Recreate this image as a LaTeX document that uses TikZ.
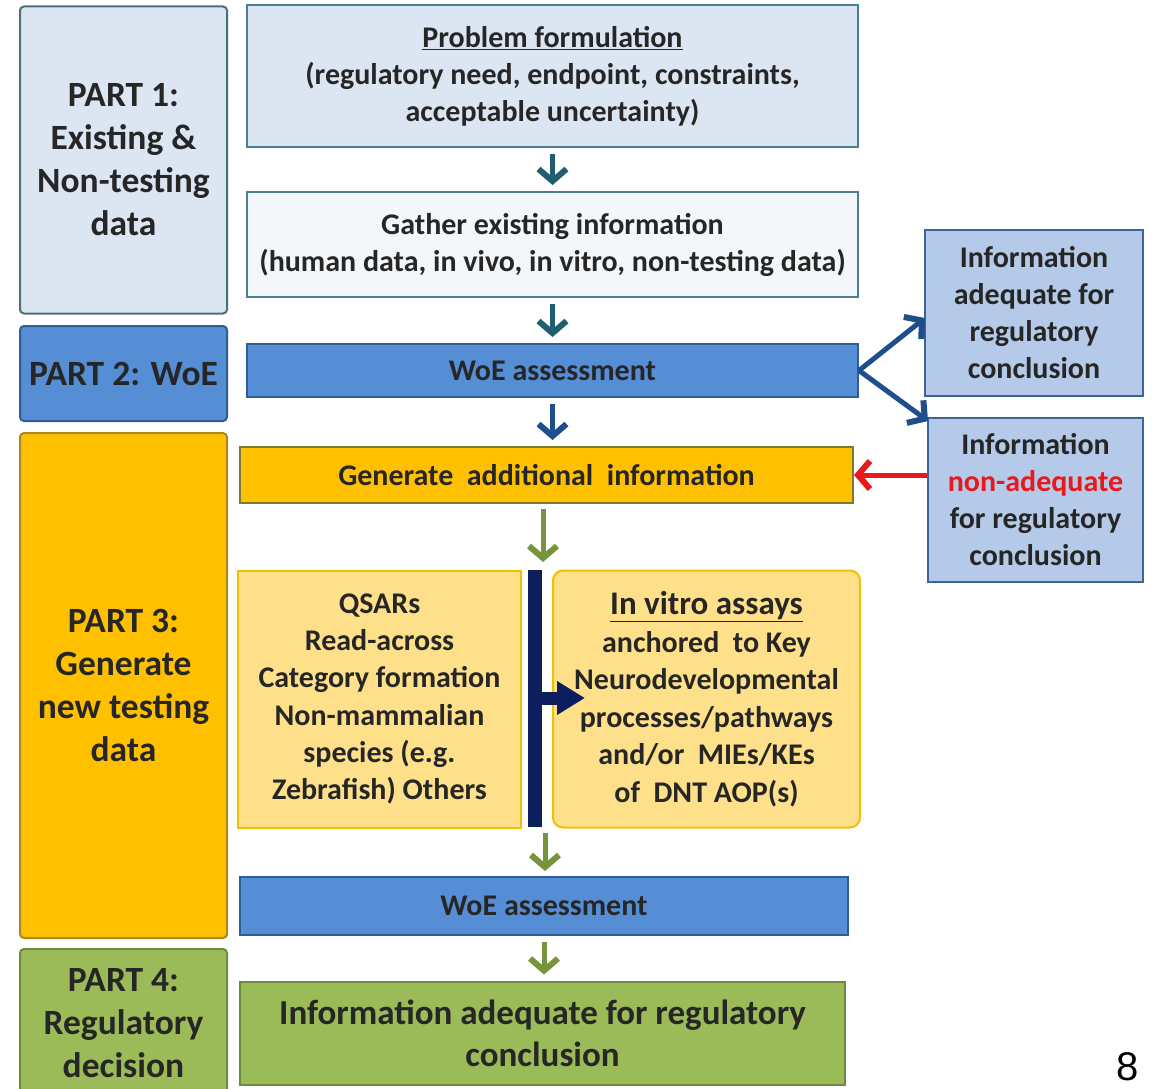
\documentclass[tikz,border=0pt]{standalone}
\usepackage{fontspec}
\setmainfont{Carlito}
\setsansfont{Liberation Sans}
\usetikzlibrary{arrows.meta}
\definecolor{pafill}{HTML}{DCE6F2}
\definecolor{padraw}{HTML}{4F6F78}
\definecolor{tealdraw}{HTML}{4A8090}
\definecolor{gathfill}{HTML}{F3F7FA}
\definecolor{woefill}{HTML}{558ED5}
\definecolor{woedraw}{HTML}{2F5E96}
\definecolor{rbfill}{HTML}{B4CAE8}
\definecolor{rbdraw}{HTML}{3D659A}
\definecolor{orfill}{HTML}{FFC000}
\definecolor{ordraw}{HTML}{A88A1E}
\definecolor{gendraw}{HTML}{7A7A30}
\definecolor{lyfill}{HTML}{FFE08A}
\definecolor{lydraw}{HTML}{F0C000}
\definecolor{navy}{HTML}{0C1E5E}
\definecolor{grfill}{HTML}{9BBB59}
\definecolor{grdraw}{HTML}{6E8B3D}
\definecolor{tealarrow}{HTML}{1E5E6E}
\definecolor{bluearrow}{HTML}{1F4E8C}
\definecolor{greenarrow}{HTML}{77933C}
\definecolor{redarrow}{HTML}{E8191C}
\definecolor{txt}{HTML}{262626}
\newcommand{\fsz}[2]{\fontsize{#1}{#2}\selectfont\bfseries}
\tikzset{
  boxbase/.style={draw, line width=2pt, inner sep=0pt, align=center, text=txt},
  partbox/.style={boxbase, rounded corners=4pt, minimum width=207pt, font=\fsz{35.5}{43}},
  barbtip/.style={-{Straight Barb[length=12pt,width=28pt,line width=6pt]}},
  flowarrow/.style={line width=5pt, barbtip, shorten <=6pt, shorten >=6pt},
}
\begin{document}
\begin{tikzpicture}[x=1pt,y=-1pt]
\clip (0,0) rectangle (1152,1089);
\fill[white] (0,0) rectangle (1152,1089);
% part boxes
\node[partbox, fill=pafill, draw=padraw, minimum height=307pt] (p1) at (123.5,160) {PART 1:\\Existing \&\\Non-testing\\data};
\node[partbox, fill=woefill, draw=woedraw, minimum height=95pt] (p2) at (123.5,373.5) {PART 2: WoE};
\node[partbox, fill=orfill, draw=ordraw, minimum height=505pt] (p3) at (123.5,685.5) {PART 3:\\Generate\\new testing\\data};
\node[partbox, fill=grfill, draw=grdraw, minimum height=150pt, anchor=north] (p4) at (123.5,948) {};
\node[font=\fsz{35.5}{43}, text=txt, align=center] (p4t) at (123.5,1023) {PART 4:\\Regulatory\\decision};
% main flow
\node[boxbase, fill=pafill, draw=tealdraw, minimum width=611pt, minimum height=142pt, font=\fsz{30}{37}] (prob) at (552.5,76) {\underline{Problem formulation}\\(regulatory need, endpoint, constraints,\\acceptable uncertainty)};
\node[boxbase, fill=gathfill, draw=tealdraw, minimum width=611pt, minimum height=105pt, font=\fsz{30}{37}] (gath) at (552.5,244.5) {Gather existing information\\(human data, in vivo, in vitro, non-testing data)};
\node[boxbase, fill=woefill, draw=woedraw, minimum width=611pt, minimum height=53pt, font=\fsz{30}{34}] (woe1) at (552.5,370.5) {WoE assessment};
\node[boxbase, fill=rbfill, draw=rbdraw, minimum width=218pt, minimum height=166pt, font=\fsz{30}{37}] (rb1) at (1034,313) {Information\\adequate for\\regulatory\\conclusion};
\node[boxbase, fill=rbfill, draw=rbdraw, minimum width=215pt, minimum height=164pt, font=\fsz{30}{37}] (rb2) at (1035.5,500) {Information\\\textcolor{redarrow}{non-adequate}\\for regulatory\\conclusion};
\node[boxbase, fill=orfill, draw=gendraw, minimum width=613pt, minimum height=56pt, font=\fsz{30}{34}] (gen) at (546.5,475) {Generate\ \ additional\ \ information};
\node[boxbase, fill=lyfill, draw=lydraw, minimum width=283pt, minimum height=257pt, font=\fsz{30}{37.3}] (ly) at (379.5,699) {QSARs\\Read-across\\Category formation\\Non-mammalian\\species (e.g.\\Zebrafish) Others};
\node[boxbase, fill=lyfill, draw=lydraw, rounded corners=10pt, minimum width=307pt, minimum height=257pt, font=\fsz{30}{37.5}] (ry) at (706.5,699) {{\fontsize{33}{37.5}\selectfont\underline{In vitro assays}}\\anchored\ \ to Key\\Neurodevelopmental\\processes/pathways\\and/or\ \ MIEs/KEs\\of\ \ DNT AOP(s)};
\node[fill=navy, inner sep=0pt, minimum width=14pt, minimum height=257pt] (bar) at (535,698.5) {};
\coordinate (bartip) at (585,698);
\draw[navy, line width=13pt, -{Triangle[length=28pt,width=32pt]}] (bar.east |- bartip) -- (bartip);
\node[boxbase, fill=woefill, draw=woedraw, minimum width=608pt, minimum height=58pt, font=\fsz{30}{34}] (woe2) at (544,906) {WoE assessment};
\node[boxbase, fill=grfill, draw=grdraw, minimum width=605pt, minimum height=103pt, font=\fsz{35}{42}] (fin) at (542.5,1033) {Information adequate for regulatory\\conclusion};
\node[font=\sffamily\fontsize{40}{40}\selectfont, text=black, anchor=base, inner sep=0pt] (pg) at (1128,1080) {8};
% arrows
\draw[flowarrow, tealarrow] (prob.south) -- (gath.north);
\draw[flowarrow, tealarrow] (gath.south) -- (woe1.north);
\draw[flowarrow, bluearrow] (woe1.south) -- (woe1.south |- gen.north);
\coordinate (g4a) at (543,503);
\coordinate (g4b) at (543,568);
\draw[flowarrow, greenarrow] (g4a) -- (g4b);
\coordinate (g5a) at (545,827);
\coordinate (g5b) at (545,877);
\draw[flowarrow, greenarrow] (g5a) -- (g5b);
\draw[flowarrow, greenarrow] (woe2.south) -- (woe2.south |- fin.north);
\coordinate (rb1in) at (925,318);
\coordinate (rb2in) at (928,421);
\draw[line width=5pt, bluearrow, barbtip] (woe1.east) -- (rb1in);
\draw[line width=5pt, bluearrow, barbtip] (woe1.east) -- (rb2in);
\draw[line width=5pt, redarrow, barbtip] (rb2.west |- gen.east) -- (gen.east);
\end{tikzpicture}
\end{document}
